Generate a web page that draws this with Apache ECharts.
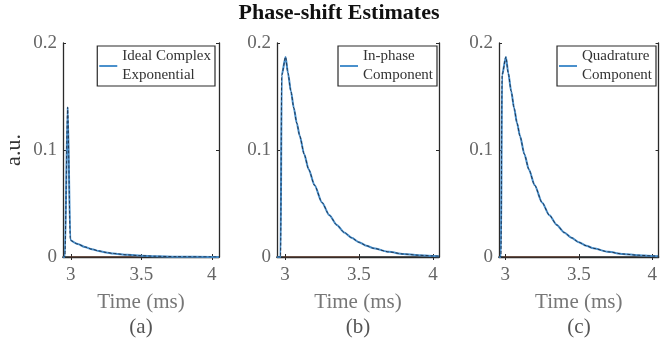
<!DOCTYPE html>
<html>
<head>
<meta charset="utf-8">
<script src="https://cdn.jsdelivr.net/npm/echarts@6/dist/echarts.min.js"></script>
<style>
  html, body { margin: 0; background: #fff; }
  #chart { width: 660px; height: 345px; }
</style>
</head>
<body>
<div id="chart"></div>
<script>
// Tick values shared by the three panels.
const timeTicks = [3, 3.5, 4]

// (a) ideal complex exponential.
const idealTime = [2.945, 2.958, 2.978, 2.997, 3.0, 3.05, 3.1, 3.15, 3.2, 3.25, 3.3, 3.4, 3.5, 3.6, 3.75, 4.0, 4.05]
const idealValues = [0, 0, 0.14, 0.016, 0.0155, 0.0121, 0.0094, 0.0073, 0.0056, 0.0043, 0.0033, 0.002, 0.0012, 0.0007, 0.0003, 0.0001, 0]

// (b) in-phase component.
const inphaseTime = [2.946, 2.97, 2.978, 3.004, 3.02, 3.04, 3.06, 3.08, 3.1, 3.13, 3.16, 3.2, 3.25, 3.3, 3.35, 3.4, 3.45, 3.5, 3.55, 3.6, 3.7, 3.8, 3.9, 4.0, 4.04]
const inphaseValues = [0, 0, 0.17, 0.187, 0.172, 0.155, 0.139, 0.125, 0.113, 0.096, 0.082, 0.067, 0.051, 0.039, 0.030, 0.023, 0.018, 0.0138, 0.0106, 0.0081, 0.0048, 0.0028, 0.0017, 0.001, 0.0008]

// (c) quadrature component.
const quadTime = [2.957, 2.97, 2.978, 3.004, 3.02, 3.04, 3.06, 3.08, 3.1, 3.13, 3.16, 3.2, 3.25, 3.3, 3.35, 3.4, 3.45, 3.5, 3.55, 3.6, 3.7, 3.8, 3.9, 4.0, 4.04]
const quadValues = [0, 0, 0.17, 0.187, 0.172, 0.155, 0.139, 0.125, 0.113, 0.096, 0.082, 0.067, 0.051, 0.039, 0.030, 0.023, 0.018, 0.0138, 0.0106, 0.0081, 0.0048, 0.0028, 0.0017, 0.001, 0.0008]

// Zero line (second MATLAB colour) under each curve.
const zeroTime = [2.99, 3.5]
const zeroValues = [0, 0]

const legendNames = ['Ideal Complex\nExponential', 'In-phase\nComponent', 'Quadrature\nComponent']
const panelLabels = ['(a)', '(b)', '(c)']

const serif = 'Liberation Serif'
const blue = '#4a90cc'
const dark = '#1f3550'
const orange = '#d95319'
const boxColor = '#2a2a2a'

// 子图布局.
const panels = [
  { left: 63, width: 156, min: 2.945, max: 4.051, time: idealTime, values: idealValues },
  { left: 277, width: 162, min: 2.946, max: 4.041, time: inphaseTime, values: inphaseValues },
  { left: 499, width: 160, min: 2.957, max: 4.043, time: quadTime, values: quadValues },
]
const gridTop = 43
const gridHeight = 214

const zip = (xs, ys) => xs.map((x, i) => [x, ys[i]])

const chart = echarts.init(document.getElementById('chart'), null, { renderer: 'canvas' })

const grid = panels.map(p => ({ left: p.left, top: gridTop, width: p.width, height: gridHeight, show: false }))

const xAxis = []
const yAxis = []
panels.forEach((p, i) => {
  xAxis.push({
    type: 'value',
    gridIndex: i,
    min: p.min,
    max: p.max,
    position: 'bottom',
    axisLine: { show: true, lineStyle: { color: boxColor, width: 1.3 } },
    axisTick: { show: true, inside: true, length: 3, customValues: timeTicks, lineStyle: { color: boxColor } },
    axisLabel: { customValues: timeTicks, margin: 9, fontFamily: serif, fontSize: 19, color: '#666' },
    splitLine: { show: false },
    name: 'Time (ms)',
    nameLocation: 'middle',
    nameGap: 35,
    nameTextStyle: { fontFamily: serif, fontSize: 21, color: '#777' },
  })
  xAxis.push({
    type: 'value',
    gridIndex: i,
    min: p.min,
    max: p.max,
    position: 'top',
    axisLine: { show: true, lineStyle: { color: boxColor, width: 1.5 } },
    axisTick: { show: true, inside: true, length: 3, customValues: timeTicks, lineStyle: { color: boxColor } },
    axisLabel: { show: false },
    splitLine: { show: false },
  })
  yAxis.push({
    type: 'value',
    gridIndex: i,
    min: 0,
    max: 0.2,
    interval: 0.1,
    position: 'left',
    axisLine: { show: true, lineStyle: { color: boxColor, width: 1.3 } },
    axisTick: { show: true, inside: true, length: 3, lineStyle: { color: boxColor } },
    axisLabel: { margin: 6, fontFamily: serif, fontSize: 19, color: '#666' },
    splitLine: { show: false },
  })
  yAxis.push({
    type: 'value',
    gridIndex: i,
    min: 0,
    max: 0.2,
    interval: 0.1,
    position: 'right',
    axisLine: { show: true, lineStyle: { color: boxColor, width: 1.3 } },
    axisTick: { show: true, inside: true, length: 3, lineStyle: { color: boxColor } },
    axisLabel: { show: false },
    splitLine: { show: false },
  })
})

const series = []
panels.forEach((p, i) => {
  const axes = { xAxisIndex: i * 2, yAxisIndex: i * 2 }
  series.push({
    name: 'zero' + i,
    type: 'line',
    ...axes,
    data: zip(zeroTime, zeroValues),
    showSymbol: false,
    lineStyle: { color: orange, width: 1, opacity: 0.35 },
  })
  series.push({
    name: legendNames[i],
    type: 'line',
    ...axes,
    data: zip(p.time, p.values),
    showSymbol: false,
    smooth: 0.25,
    smoothMonotone: 'x',
    color: blue,
    lineStyle: { color: blue, width: 2 },
  })
  series.push({
    name: 'est' + i,
    type: 'line',
    ...axes,
    data: zip(p.time, p.values),
    showSymbol: false,
    smooth: 0.25,
    smoothMonotone: 'x',
    lineStyle: { color: dark, width: 1, type: [3, 2] },
  })
})

// 图例: 每个子图一个, 右上角带边框.
const legendRights = [445, 223, 4]
const legend = legendNames.map((name, i) => ({
  data: [{ name, icon: 'rect' }],
  right: legendRights[i],
  top: 46,
  orient: 'vertical',
  padding: [1, 4, 1, 2],
  borderColor: boxColor,
  borderWidth: 1.2,
  backgroundColor: '#fff',
  itemWidth: 18,
  itemHeight: 2,
  selectedMode: false,
  textStyle: { fontFamily: serif, fontSize: 15, lineHeight: 19, color: '#333' },
}))

const graphic = [
  {
    type: 'text',
    x: 339,
    y: 13,
    style: { text: 'Phase-shift Estimates', font: `bold 22px "${serif}"`, fill: '#111', textAlign: 'center', textVerticalAlign: 'middle' },
  },
  {
    type: 'text',
    x: 14,
    y: 150,
    rotation: Math.PI / 2,
    style: { text: 'a.u.', font: `22px "${serif}"`, fill: '#333', textAlign: 'center', textVerticalAlign: 'middle' },
  },
  ...panels.map((p, i) => ({
    type: 'text',
    x: p.left + p.width / 2,
    y: 327,
    style: { text: panelLabels[i], font: `21px "${serif}"`, fill: '#555', textAlign: 'center', textVerticalAlign: 'middle' },
  })),
]

chart.setOption({
  animation: false,
  backgroundColor: '#fff',
  grid,
  xAxis,
  yAxis,
  legend,
  graphic,
  series,
})
</script>
</body>
</html>
